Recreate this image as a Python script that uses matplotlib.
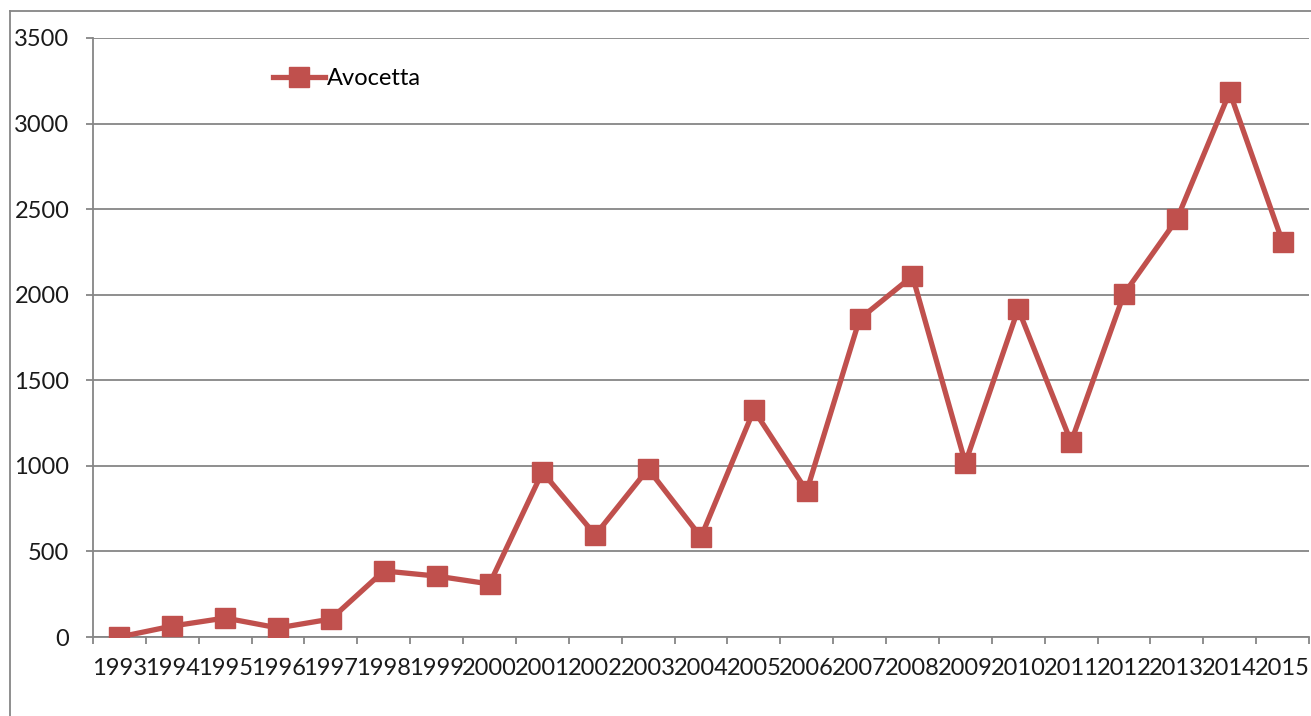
import numpy as np
import matplotlib.pyplot as plt
from matplotlib.lines import Line2D

# data
years = [str(y) for y in range(1993, 2016)]
avocetta = [0, 64, 111, 53, 105, 386, 356, 310, 964, 596, 982, 584,
            1326, 853, 1858, 2109, 1017, 1917, 1139, 2004, 2440, 3184, 2308]
yticks = [0, 500, 1000, 1500, 2000, 2500, 3000, 3500]

red = '#C0504D'
grey = '#868686'

plt.rcParams['font.family'] = ['Lato', 'DejaVu Sans']

fig = plt.figure(figsize=(13.11, 7.16), dpi=100)
ax = fig.add_axes([93 / 1311, 79 / 716, 1216 / 1311, 599 / 716])

x = np.arange(len(years))
ax.plot(x, avocetta, color=red, lw=3.8, marker='s', ms=14,
        mec=red, mfc=red, label='Avocetta', zorder=3)

ax.set_xlim(-0.5, len(years) - 0.5)
ax.set_ylim(0, 3500)
ax.set_yticks(yticks)
ax.set_yticklabels([str(v) for v in yticks], fontsize=17, color='#1a1a1a')
ax.set_xticks(x)
ax.set_xticklabels(years, fontsize=17, color='#1a1a1a')
ax.set_xticks(np.arange(-0.5, len(years)), minor=True)

ax.tick_params(axis='x', which='major', length=0, pad=15)
ax.tick_params(axis='x', which='minor', length=5, width=1.3, color=grey)
ax.tick_params(axis='y', length=5, width=1.3, color=grey, pad=12)

ax.grid(axis='y', color=grey, lw=1.3)
ax.set_axisbelow(True)
for s in ['top', 'right']:
    ax.spines[s].set_visible(False)
for s in ['left', 'bottom']:
    ax.spines[s].set_color(grey)
    ax.spines[s].set_linewidth(1.3)

ax.legend(loc='center left', bbox_to_anchor=(0.148, 0.932), frameon=False,
          fontsize=17, handlelength=2.2, handletextpad=0.1, borderpad=0,
          borderaxespad=0, numpoints=1)

# outer chart border (cut off at right and bottom)
fig.add_artist(Line2D([10 / 1311, 10 / 1311], [0, 1 - 11 / 716],
                      transform=fig.transFigure, color=grey, lw=1.3))
fig.add_artist(Line2D([10 / 1311, 1], [1 - 11 / 716, 1 - 11 / 716],
                      transform=fig.transFigure, color=grey, lw=1.3))

fig.savefig('out.png', dpi=100)
